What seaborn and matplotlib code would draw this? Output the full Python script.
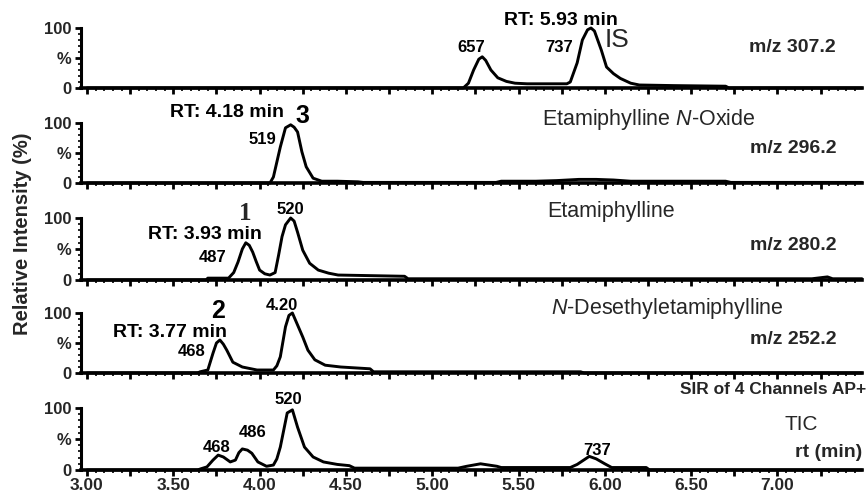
import numpy as np
import pandas as pd
import seaborn as sns
import matplotlib
matplotlib.use("Agg")
import matplotlib.pyplot as plt
from matplotlib.ticker import MultipleLocator, FixedLocator

sns.set_theme(style="ticks")
plt.rcParams['font.family'] = ['Liberation Sans', 'DejaVu Sans']
plt.rcParams['mathtext.fontset'] = 'custom'
plt.rcParams['mathtext.it'] = 'Liberation Sans:italic'
plt.rcParams['mathtext.rm'] = 'Liberation Sans'

# ---------------- data (retention time in min, relative intensity in %) ----------------
t_307 = [3.00, 5.18, 5.21, 5.24, 5.27, 5.29, 5.31, 5.34, 5.38, 5.43, 5.48, 5.55, 5.70, 5.78,
         5.80, 5.84, 5.87, 5.90, 5.92, 5.94, 5.98, 6.01, 6.05, 6.09, 6.15, 6.20, 6.40, 6.70, 6.72, 7.49]
i_307 = [0, 0, 8, 30, 48, 52, 46, 30, 17, 11, 8, 7, 7, 7,
         10, 42, 80, 97, 100, 95, 63, 35, 24, 16, 8, 5, 4, 3, 0, 0]

t_296 = [3.00, 4.06, 4.08, 4.10, 4.12, 4.15, 4.18, 4.20, 4.22, 4.245, 4.27, 4.31, 4.36, 4.45,
         4.57, 4.60, 5.37, 5.40, 5.60, 5.72, 5.85, 5.95, 6.05, 6.15, 6.40, 6.70, 6.73, 7.49]
i_296 = [0, 0, 10, 35, 60, 92, 97, 93, 85, 52, 27, 8, 3, 3,
         2, 1, 1, 3, 3, 4, 6, 6, 5, 3, 3, 3, 1, 1]

t_280 = [3.00, 3.69, 3.70, 3.82, 3.85, 3.875, 3.90, 3.92, 3.94, 3.96, 3.98, 4.00, 4.03, 4.06,
         4.09, 4.11, 4.13, 4.15, 4.18, 4.20, 4.22, 4.25, 4.29, 4.34, 4.40, 4.455, 4.84, 4.86,
         7.20, 7.29, 7.32, 7.49]
i_280 = [0, 0, 3, 3, 12, 29, 50, 60, 56, 45, 30, 16, 10, 8,
         12, 40, 70, 89, 100, 95, 77, 48, 27, 16, 11, 8, 6, 2,
         2, 5, 2, 2]

t_252 = [3.00, 3.64, 3.655, 3.70, 3.73, 3.75, 3.77, 3.79, 3.81, 3.845, 3.90, 3.985, 4.08, 4.10,
         4.12, 4.15, 4.17, 4.19, 4.22, 4.25, 4.28, 4.32, 4.38, 4.47, 4.64, 4.66, 5.86, 5.88, 7.49]
i_252 = [0, 0, 2, 5, 33, 50, 55, 48, 38, 18, 10, 5, 5, 12,
         27, 77, 96, 100, 80, 60, 38, 22, 13, 10, 7, 2, 2, 0, 0]

t_tic = [3.00, 3.64, 3.66, 3.695, 3.73, 3.76, 3.79, 3.83, 3.86, 3.88, 3.90, 3.93, 3.955, 3.99,
         4.04, 4.08, 4.10, 4.12, 4.16, 4.19, 4.22, 4.26, 4.31, 4.37, 4.45, 4.52, 4.55, 5.15,
         5.20, 5.28, 5.375, 5.40, 5.80, 5.84, 5.91, 5.95, 6.00, 6.04, 6.24, 6.26, 7.49]
i_tic = [0, 0, 2, 5, 16, 24, 21, 13, 16, 28, 34, 32, 27, 13,
         6, 8, 18, 37, 92, 97, 69, 37, 21, 13, 9, 7, 3, 3,
         6, 10, 6, 4, 4, 9, 22, 18, 10, 4, 4, 0, 0]

traces = [(t_307, i_307), (t_296, i_296), (t_280, i_280), (t_252, i_252), (t_tic, i_tic)]

x_ticks = [3.00, 3.25, 3.50, 3.75, 4.00, 4.25, 4.50, 4.75, 5.00, 5.25, 5.50, 5.75,
           6.00, 6.25, 6.50, 6.75, 7.00, 7.25]
x_tick_labels = ["3.00", "", "3.50", "", "4.00", "", "4.50", "", "5.00", "", "5.50", "",
                 "6.00", "", "6.50", "", "7.00", ""]
y_ticks = [0, 50, 100]
y_tick_labels = ["0", "%", "100"]

channel_labels = ["m/z 307.2", "m/z 296.2", "m/z 280.2", "m/z 252.2", "rt (min)"]
compound_names = [None, "Etamiphylline $\\mathit{N}$-Oxide", "Etamiphylline",
                  "$\\mathit{N}$-Desethyletamiphylline", "TIC"]

# ---------------- layout ----------------
W, H = 868, 496
fig = plt.figure(figsize=(W / 100, H / 100), dpi=100)
px_left, px_right = 81, 862
panel_px = [(28, 88), (123, 183), (218, 280), (313, 373), (408, 470)]
px_per_min = 172.6
xmin = 3.0 - (87 - px_left) / px_per_min
xmax = 3.0 + (px_right - 87) / px_per_min

axes = []
for k, ((y100, y0), (tt, ii)) in enumerate(zip(panel_px, traces)):
    ax = fig.add_axes([px_left / W, 1 - y0 / H, (px_right - px_left) / W, (y0 - y100) / H])
    df = pd.DataFrame({"rt": tt, "intensity": ii})
    sns.lineplot(data=df, x="rt", y="intensity", ax=ax, color="black", lw=2.1,
                 clip_on=False, sort=False, estimator=None)
    ax.set_xlim(xmin, xmax)
    ax.set_ylim(0, 100)
    ax.set_xlabel("")
    ax.set_ylabel("")
    for s in ["top", "right"]:
        ax.spines[s].set_visible(False)
    ax.spines["left"].set_linewidth(2.2)
    ax.spines["bottom"].set_linewidth(2.6)
    ax.spines["left"].set_color("black")
    ax.spines["bottom"].set_color("black")
    ax.xaxis.set_major_locator(FixedLocator(x_ticks))
    ax.xaxis.set_minor_locator(MultipleLocator(0.05))
    ax.yaxis.set_major_locator(FixedLocator(y_ticks))
    ax.yaxis.set_minor_locator(MultipleLocator(10))
    ax.set_yticklabels(y_tick_labels, fontsize=12, fontweight="bold")
    if k == 4:
        ax.set_xticklabels(x_tick_labels, fontsize=12.5, fontweight="bold")
    else:
        ax.set_xticklabels([])
    ax.tick_params(axis="x", which="major", length=4, width=2, direction="out", color="black", pad=2)
    ax.tick_params(axis="x", which="minor", length=2, width=1.2, direction="out", color="black")
    ax.tick_params(axis="y", which="major", length=4, width=2, direction="out", color="black", pad=3)
    ax.tick_params(axis="y", which="minor", length=2, width=1.2, direction="out", color="black")
    ax.patch.set_alpha(0)
    axes.append(ax)

bold = dict(fontweight="bold", ha="center", va="center", color="black")
RT_FS = 14
PK_FS = 12
NAME_FS = 15.5
MZ_FS = 14

# Panel 1
a = axes[0]
a.text(5.746, 113, "RT: 5.93 min", fontsize=RT_FS, **bold)
a.text(5.225, 67, "657", fontsize=PK_FS, **bold)
a.text(5.735, 67, "737", fontsize=PK_FS, **bold)
a.text(6.07, 80, "IS", fontsize=19, ha="center", va="center")
a.text(7.34, 67, channel_labels[0], fontsize=MZ_FS, fontweight="bold", ha="right", va="center")

# Panel 2
a = axes[1]
a.text(3.81, 117, "RT: 4.18 min", fontsize=RT_FS, **bold)
a.text(4.246, 112, "3", fontsize=18, **bold)
a.text(4.014, 72, "519", fontsize=PK_FS, **bold)
a.text(6.256, 105, compound_names[1], fontsize=NAME_FS, ha="center", va="center")
a.text(7.34, 58, channel_labels[1], fontsize=MZ_FS, fontweight="bold", ha="right", va="center")

# Panel 3
a = axes[2]
a.text(3.915, 108, "1", fontsize=18, fontweight="bold", ha="center", va="center",
       family=["Liberation Serif", "DejaVu Serif"])
a.text(4.176, 113, "520", fontsize=PK_FS, **bold)
a.text(3.684, 74, "RT: 3.93 min", fontsize=RT_FS, **bold)
a.text(3.73, 37, "487", fontsize=PK_FS, **bold)
a.text(6.036, 110, compound_names[2], fontsize=NAME_FS, ha="center", va="center")
a.text(7.34, 56, channel_labels[2], fontsize=MZ_FS, fontweight="bold", ha="right", va="center")

# Panel 4
a = axes[3]
a.text(3.759, 104, "2", fontsize=18, **bold)
a.text(4.13, 113, "4.20", fontsize=PK_FS, **bold)
a.text(3.48, 67, "RT: 3.77 min", fontsize=RT_FS, **bold)
a.text(3.608, 35, "468", fontsize=PK_FS, **bold)
a.text(6.36, 108, compound_names[3], fontsize=NAME_FS, ha="center", va="center")
a.text(7.34, 55, channel_labels[3], fontsize=MZ_FS, fontweight="bold", ha="right", va="center")

# Panel 5
a = axes[4]
a.text(4.165, 113, "520", fontsize=PK_FS, **bold)
a.text(3.753, 37, "468", fontsize=PK_FS, **bold)
a.text(3.962, 60, "486", fontsize=PK_FS, **bold)
a.text(5.955, 32, "737", fontsize=PK_FS, **bold)
a.text(7.137, 73, compound_names[4], fontsize=15, ha="center", va="center")
a.text(7.49, 29, channel_labels[4], fontsize=MZ_FS, fontweight="bold", ha="right", va="center")

fig.text(866 / W, 1 - 390 / H, "SIR of 4 Channels AP+", fontsize=12.5, fontweight="bold",
         ha="right", va="center")
fig.text(23 / W, 1 - 234 / H, "Relative Intensity (%)", fontsize=14.5, fontweight="bold",
         rotation=90, ha="center", va="center")

fig.savefig("out.png", dpi=100)
